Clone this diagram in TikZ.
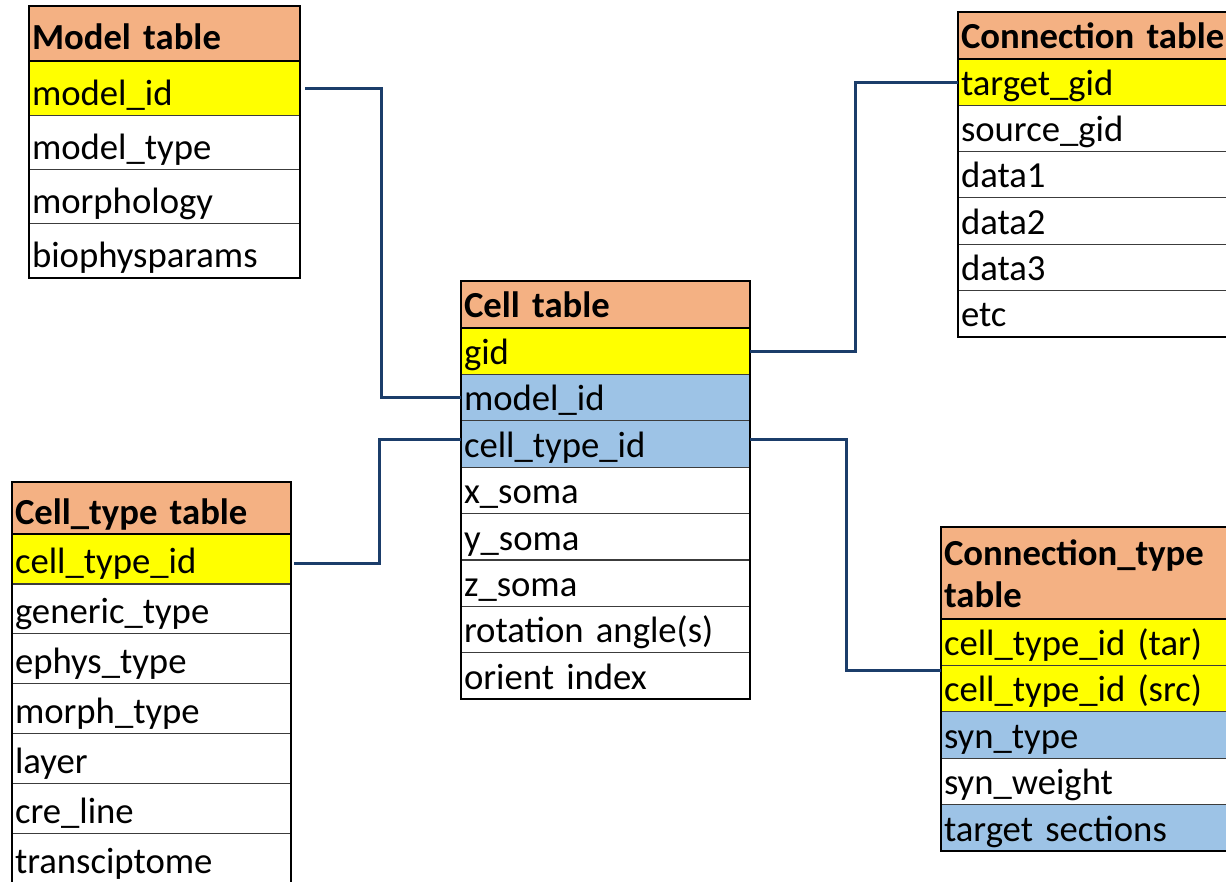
\documentclass[tikz,border=0pt]{standalone}
\usepackage{fontspec}
\setmainfont{Carlito}
\usetikzlibrary{positioning}
\definecolor{hdrorange}{HTML}{F4B183}
\definecolor{keyyellow}{HTML}{FFFF00}
\definecolor{fkblue}{HTML}{9DC3E6}
\definecolor{linkblue}{HTML}{1B3D6A}
\definecolor{rulegray}{HTML}{3C3C3C}
\tikzset{
  tbl/.style 2 args={text width=#1, text height=#2},
  fld/.style={fill=#1, draw=rulegray, line width=1.2pt, outer sep=0pt,
    inner xsep=3pt, inner ysep=0pt, text depth=10pt, align=left,
    font=\fontsize{36.7}{42}\selectfont},
  hdr/.style={fld=hdrorange, anchor=north west,
    font=\fontsize{36.7}{42}\selectfont\bfseries},
  outer/.style={draw=black, line width=2.5pt},
  link/.style={draw=linkblue, line width=3pt}
}

\begin{document}
\begin{tikzpicture}[x=1pt, y=-1pt]
\useasboundingbox (0,0) rectangle (1226,882);
\clip (0,0) rectangle (1226,882);

% model table
\begin{scope}[every node/.append style={tbl={265pt}{44.25pt}}]
\node[hdr, text height=44pt, text depth=11pt] (mod0) at (29,6) {Model table};
\foreach \txt/\col [count=\i, remember=\i as \j (initially 0)] in
  {model\_id/keyyellow, model\_type/white, morphology/white, biophysparams/white}
  \node[fld=\col, below=0pt of mod\j] (mod\i) {\txt};
\draw[outer] (mod0.north west) rectangle (mod4.south east);
\draw[outer] (mod0.south west) -- (mod0.south east);
\end{scope}

% cell table
\begin{scope}[every node/.append style={tbl={283pt}{36.4pt}}]
\node[hdr, text height=37pt] (cel0) at (461,281) {Cell table};
\foreach \txt/\col [count=\i, remember=\i as \j (initially 0)] in
  {gid/keyyellow, model\_id/fkblue, cell\_type\_id/fkblue, x\_soma/white,
   y\_soma/white, z\_soma/white, rotation angle(s)/white, orient index/white}
  \node[fld=\col, below=0pt of cel\j] (cel\i) {\txt};
\draw[outer] (cel0.north west) rectangle (cel8.south east);
\draw[outer] (cel0.south west) -- (cel0.south east);
\end{scope}

% connection table
\begin{scope}[every node/.append style={tbl={284pt}{36.3pt}}]
\node[hdr, text height=37pt] (con0) at (958,12) {Connection table};
\foreach \txt/\col [count=\i, remember=\i as \j (initially 0)] in
  {target\_gid/keyyellow, source\_gid/white, data1/white, data2/white,
   data3/white, etc/white}
  \node[fld=\col, below=0pt of con\j] (con\i) {\txt};
\draw[outer] (con0.north west) rectangle (con6.south east);
\draw[outer] (con0.south west) -- (con0.south east);
\end{scope}

% cell_type table
\begin{scope}[every node/.append style={tbl={273pt}{39.9pt}}]
\node[hdr, text height=42pt] (typ0) at (12,482) {Cell\_type table};
\foreach \txt/\col [count=\i, remember=\i as \j (initially 0)] in
  {cell\_type\_id/keyyellow, generic\_type/white, ephys\_type/white,
   morph\_type/white, layer/white, cre\_line/white, transciptome/white}
  \node[fld=\col, below=0pt of typ\j] (typ\i) {\txt};
\draw[outer] (typ0.north west) rectangle (typ7.south east);
\draw[outer] (typ0.south west) -- (typ0.south east);
\end{scope}

% connection_type table
\begin{scope}[every node/.append style={tbl={294pt}{36.4pt}}]
\node[hdr, text height=38pt, text depth=54pt] (ctp0) at (941,527)
  {Connection\_type\\table};
\foreach \txt/\col [count=\i, remember=\i as \j (initially 0)] in
  {cell\_type\_id (tar)/keyyellow, cell\_type\_id (src)/keyyellow,
   syn\_type/fkblue, syn\_weight/white, target sections/fkblue}
  \node[fld=\col, below=0pt of ctp\j] (ctp\i) {\txt};
\draw[outer] (ctp0.north west) rectangle (ctp5.south east);
\draw[outer] (ctp0.south west) -- (ctp0.south east);
\end{scope}

% links
\draw[link] ([xshift=5pt]mod1.east) -- ++(76,0) |- (cel2.west);
\draw[link] (cel1.east) -- ++(105,0) |- (con1.west);
\draw[link] ([xshift=3pt,yshift=-5pt]typ1.east) -- ++(85,0) |- ([yshift=5pt]cel3.west);
\draw[link] ([yshift=5pt]cel3.east) -- ++(96,0) |- ([yshift=-5pt]ctp1.south west);
\end{tikzpicture}
\end{document}
